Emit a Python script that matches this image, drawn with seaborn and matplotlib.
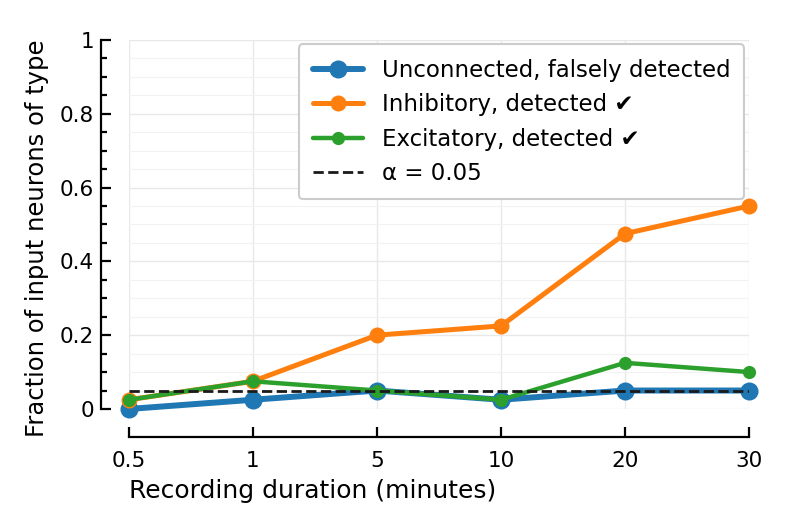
import numpy as np
import pandas as pd
import seaborn as sns
import matplotlib.pyplot as plt
from matplotlib.ticker import MultipleLocator

durations = ["0.5", "1", "5", "10", "20", "30"]
unconnected = [0.0, 0.025, 0.05, 0.025, 0.05, 0.05]
inhibitory = [0.025, 0.075, 0.2, 0.225, 0.475, 0.55]
excitatory = [0.025, 0.075, 0.05, 0.025, 0.125, 0.1]
alpha = 0.05

sns.set_theme(style="whitegrid")
plt.rcParams["font.family"] = ["DejaVu Sans"]
plt.rcParams["text.color"] = "black"
plt.rcParams["axes.labelcolor"] = "black"
plt.rcParams["xtick.color"] = "black"
plt.rcParams["ytick.color"] = "black"

pos = np.arange(len(durations))
df = pd.DataFrame({"pos": pos, "unconnected": unconnected,
                   "inhibitory": inhibitory, "excitatory": excitatory})

fig, ax = plt.subplots(figsize=(7.86, 5.25), dpi=100)

sns.lineplot(data=df, x="pos", y="unconnected", ax=ax, color="#1f77b4",
             marker="o", markersize=13, linewidth=4.3, markeredgewidth=0,
             label="Unconnected, falsely detected", clip_on=False)
sns.lineplot(data=df, x="pos", y="inhibitory", ax=ax, color="#ff7f0e",
             marker="o", markersize=11.5, linewidth=3.6, markeredgewidth=0,
             label="Inhibitory, detected ✔", clip_on=False)
sns.lineplot(data=df, x="pos", y="excitatory", ax=ax, color="#2ca02c",
             marker="o", markersize=9.5, linewidth=3.2, markeredgewidth=0,
             label="Excitatory, detected ✔", clip_on=False)
ax.plot([pos[0], pos[-1]], [alpha, alpha], "k--", linewidth=2.0,
        label="α = 0.05")

ax.set_xlim(0, len(durations) - 1)
ax.set_ylim(0, 1)
ax.set_xticks(pos)
ax.set_xticklabels(durations)
ax.set_yticks([0, 0.2, 0.4, 0.6, 0.8, 1])
ax.set_yticklabels(["0", "0.2", "0.4", "0.6", "0.8", "1"])
ax.yaxis.set_minor_locator(MultipleLocator(0.05))

ax.grid(True, which="major", color="#e8e8e8", linewidth=1.0)
ax.grid(True, which="minor", axis="y", color="#f2f2f2", linewidth=0.8)
ax.tick_params(axis="both", which="major", direction="in", length=7,
               width=1.6, color="black", labelsize=15.5, left=True, bottom=True)
ax.tick_params(axis="x", which="major", pad=10)
ax.tick_params(axis="y", which="major", pad=5)
ax.tick_params(axis="y", which="minor", direction="in", length=4,
               width=1.6, color="black", left=True)

sns.despine(ax=ax, offset=20)
for s in ["left", "bottom"]:
    ax.spines[s].set_color("black")
    ax.spines[s].set_linewidth(1.6)

ax.set_xlabel("Recording duration (minutes)", fontsize=18, loc="left", labelpad=6)
ax.set_ylabel("Fraction of input neurons of type", fontsize=17.5, loc="top", labelpad=8)

leg = ax.legend(loc="upper right", fontsize=16.5, frameon=True, framealpha=1,
                edgecolor="#cccccc", borderaxespad=0.2, borderpad=0.62,
                handlelength=2.2)
leg.get_frame().set_linewidth(1.5)

fig.subplots_adjust(left=0.164, right=0.953, top=0.924, bottom=0.221)
fig.savefig("out.png", dpi=100)
